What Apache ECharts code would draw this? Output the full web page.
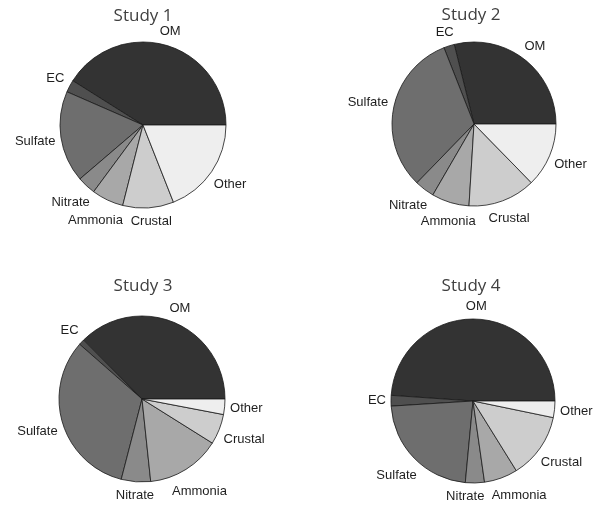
<!DOCTYPE html>
<html>
<head>
<meta charset="utf-8">
<script src="https://cdn.jsdelivr.net/npm/echarts@6/dist/echarts.min.js"></script>
<style>
html,body{margin:0;padding:0;background:#fff;}
#chart{width:600px;height:508px;}
</style>
</head>
<body>
<div id="chart"></div>
<script>
var categories = ['OM', 'EC', 'Sulfate', 'Nitrate', 'Ammonia', 'Crustal', 'Other'];
var studyTitles = ['Study 1', 'Study 2', 'Study 3', 'Study 4'];
var study1 = [41.0, 2.4, 17.8, 3.6, 6.2, 9.9, 19.0];
var study2 = [28.9, 2.1, 31.8, 3.9, 7.4, 13.3, 12.7];
var study3 = [37.4, 1.1, 32.4, 5.7, 14.4, 5.9, 3.0];
var study4 = [48.9, 2.1, 22.5, 3.75, 6.6, 12.9, 3.25];
var colors = ['#333333', '#4f4f4f', '#6e6e6e', '#8a8a8a', '#a8a8a8', '#cdcdcd', '#eeeeee'];

var studies = [study1, study2, study3, study4];
var centers = [[143, 125], [474, 124], [142, 399], [473, 401]];
var radii = [83, 82, 83, 82];
var titlePos = [[138, 3], [466, 2], [138, 273], [466, 273]];
var labelGap = 5;
var labelPad = 7;
var labelFont = '13px "Liberation Sans", Arial, sans-serif';
var labelH = 14;

var chart = echarts.init(document.getElementById('chart'), null, {renderer: 'canvas'});

var measureCtx = document.createElement('canvas').getContext('2d');
measureCtx.font = labelFont;

function midAngles(vals) {
  var total = vals.reduce(function (a, b) { return a + b; }, 0);
  var acc = 0;
  return vals.map(function (v) {
    var m = (acc + v / 2) / total * 2 * Math.PI;
    acc += v;
    return m;
  });
}

// place label boxes just outside the pie along each slice's mid angle,
// then spread neighbouring labels apart along the circle until they no longer overlap
function layoutLabels(vals, i) {
  var angles = midAngles(vals);
  var sizes = categories.map(function (c) {
    return {w: measureCtx.measureText(c).width, h: labelH};
  });
  function boxAt(k) {
    var a = angles[k];
    var dx = Math.cos(a), dy = -Math.sin(a);
    var w = sizes[k].w, h = sizes[k].h;
    var t = radii[i] + labelGap + Math.abs(dx) * w / 2 + Math.abs(dy) * h / 2;
    var cx = centers[i][0] + dx * t, cy = centers[i][1] + dy * t;
    return {x: cx, y: cy, l: cx - w / 2, r: cx + w / 2, t: cy - h / 2, b: cy + h / 2};
  }
  function overlap(A, B) {
    return A.l < B.r + labelPad && B.l < A.r + labelPad && A.t < B.b + 2 && B.t < A.b + 2;
  }
  var step = 0.4 * Math.PI / 180;
  for (var it = 0; it < 300; it++) {
    var moved = false;
    for (var k = 0; k < angles.length - 1; k++) {
      if (overlap(boxAt(k), boxAt(k + 1))) {
        angles[k] -= step;
        angles[k + 1] += step;
        moved = true;
      }
    }
    if (!moved) break;
  }
  return categories.map(function (c, k) { return boxAt(k); });
}

var series = studies.map(function (vals, i) {
  var boxes = layoutLabels(vals, i);
  return {
    type: 'pie',
    center: centers[i],
    radius: radii[i],
    startAngle: 0,
    clockwise: false,
    avoidLabelOverlap: false,
    silent: true,
    itemStyle: {borderColor: '#1a1a1a', borderWidth: 0.8},
    label: {
      show: true,
      position: 'outside',
      fontFamily: '"Liberation Sans", Arial, sans-serif',
      fontSize: 13,
      color: '#1e1e1e',
      formatter: '{b}'
    },
    labelLine: {show: false, length: 6, length2: 0},
    labelLayout: function (p) {
      var b = boxes[p.dataIndex];
      return {x: b.x, y: b.y, align: 'center', verticalAlign: 'middle'};
    },
    data: categories.map(function (c, k) {
      return {name: c, value: vals[k], itemStyle: {color: colors[k]}};
    })
  };
});

var titles = studyTitles.map(function (t, i) {
  return {
    text: t,
    left: titlePos[i][0],
    top: titlePos[i][1],
    textAlign: 'center',
    textStyle: {fontFamily: '"Open Sans", sans-serif', fontSize: 17, fontWeight: 'normal', color: '#404040'}
  };
});

chart.setOption({
  animation: false,
  backgroundColor: '#ffffff',
  title: titles,
  series: series
});
</script>
</body>
</html>
